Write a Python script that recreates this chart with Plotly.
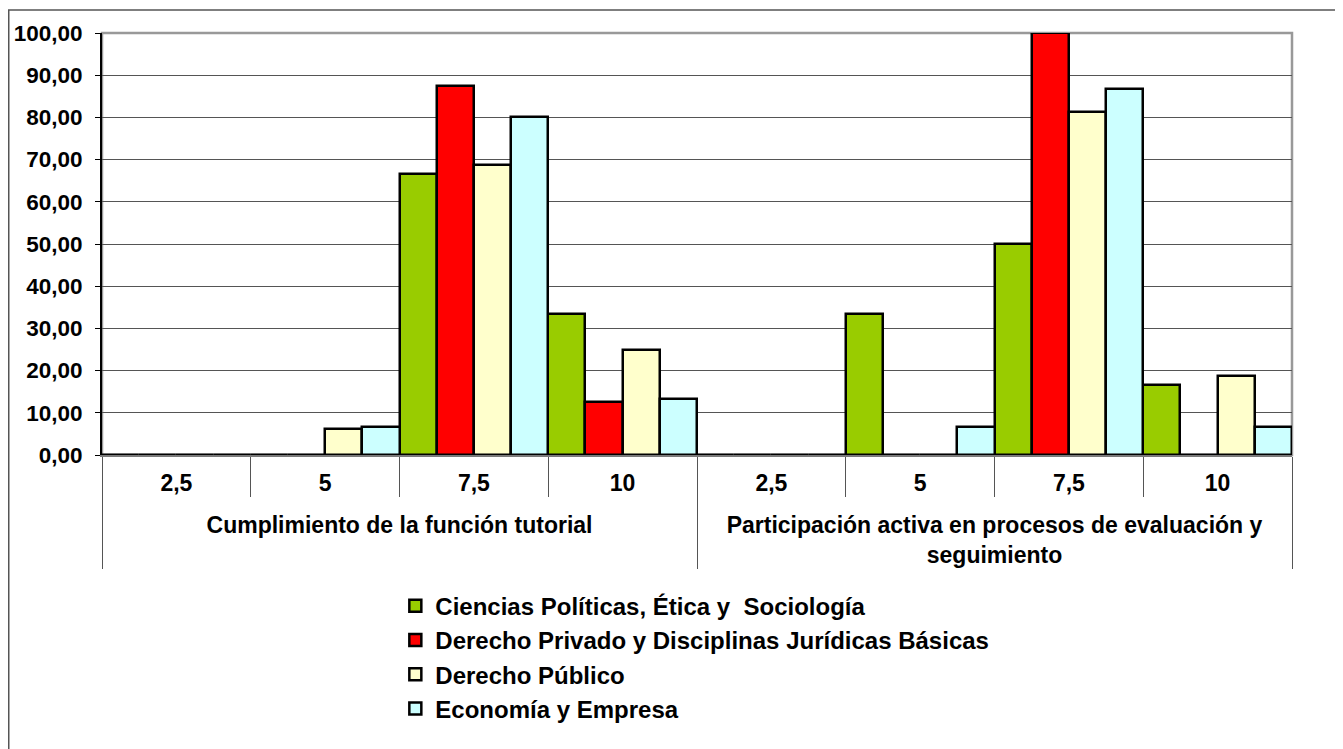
import plotly.graph_objects as go

groups = ["Cumplimiento de la función tutorial",
          "Participación activa en procesos de evaluación y<br>seguimiento"]
scores = ["2,5", "5", "7,5", "10"]
series_names = ["Ciencias Políticas, Ética y  Sociología",
                "Derecho Privado y Disciplinas Jurídicas Básicas",
                "Derecho Público",
                "Economía y Empresa"]
ciencias = [0, 0, 66.67, 33.33, 0, 33.33, 50.00, 16.67]
privado = [0, 0, 87.50, 12.50, 0, 0, 100.00, 0]
publico = [0, 6.25, 68.75, 25.00, 0, 0, 81.25, 18.75]
economia = [0, 6.67, 80.00, 13.33, 0, 6.67, 86.67, 6.67]
y_ticks = list(range(0, 101, 10))

colors = ["#99CC00", "#FF0000", "#FFFFCC", "#CCFFFF"]
values = [ciencias, privado, publico, economia]

# invisible tall spacer so the two label rows sit further apart
PAD = "<span style='font-size:41px'>\u00a0</span>"
x_outer = [g for g in groups for _ in scores]
x_inner = [PAD + s + PAD for _ in groups for s in scores]

FONT = "Liberation Sans, Arial, sans-serif"

W, H = 1335, 741
L, T, PW, PH = 94, 25, 1190, 422

fig = go.Figure()
for name, vals, col in zip(series_names, values, colors):
    fig.add_trace(go.Bar(
        x=[x_outer, x_inner], y=vals, name=name,
        marker=dict(color=col, line=dict(color="black", width=2.5)),
    ))

fig.update_layout(
    width=W, height=H,
    margin=dict(l=L, r=W - L - PW, t=T, b=H - T - PH, pad=0),
    paper_bgcolor="white", plot_bgcolor="white",
    barmode="group", bargap=0, bargroupgap=0,
    separators=",.",
    font=dict(family=FONT, color="black"),
    showlegend=True,
    legend=dict(
        x=0.2465, y=-0.305, xanchor="left", yanchor="top",
        orientation="v", traceorder="normal",
        font=dict(family=FONT, size=24, color="black", weight="bold"),
        itemwidth=30, bgcolor="rgba(0,0,0,0)",
    ),
    xaxis=dict(
        type="multicategory", automargin=False,
        showline=True, linecolor="#7a7a7a", linewidth=2,
        ticks="outside", tickson="boundaries", ticklen=40,
        tickcolor="#555555", tickwidth=1,
        ticklabelstandoff=6,
        showdividers=True, dividercolor="#555555", dividerwidth=1,
        tickfont=dict(family=FONT, size=23, color="black", weight="bold"),
        showgrid=False,
    ),
    yaxis=dict(
        range=[0, 100], tickvals=y_ticks, tickformat=".2f", automargin=False,
        showline=True, linecolor="black", linewidth=2,
        ticks="outside", ticklen=5, tickcolor="black", tickwidth=1,
        ticklabelstandoff=8,
        showgrid=True, gridcolor="#555555", gridwidth=1,
        zeroline=False,
        tickfont=dict(family=FONT, size=22.5, color="black", weight="bold"),
    ),
)

# plot-area border (top / right in gray)
fig.add_shape(type="rect", xref="paper", yref="paper", x0=0, x1=1, y0=0, y1=1,
              line=dict(color="#999999", width=2.5), layer="below")
# outer chart border
fig.add_shape(type="rect", xref="paper", yref="paper",
              x0=(0.75 - L) / PW, x1=(W + 10 - L) / PW,
              y0=(T + PH - H - 10) / PH, y1=(T + PH - 2) / PH,
              line=dict(color="#555555", width=1.5), layer="below")

fig.write_html("out.html")
